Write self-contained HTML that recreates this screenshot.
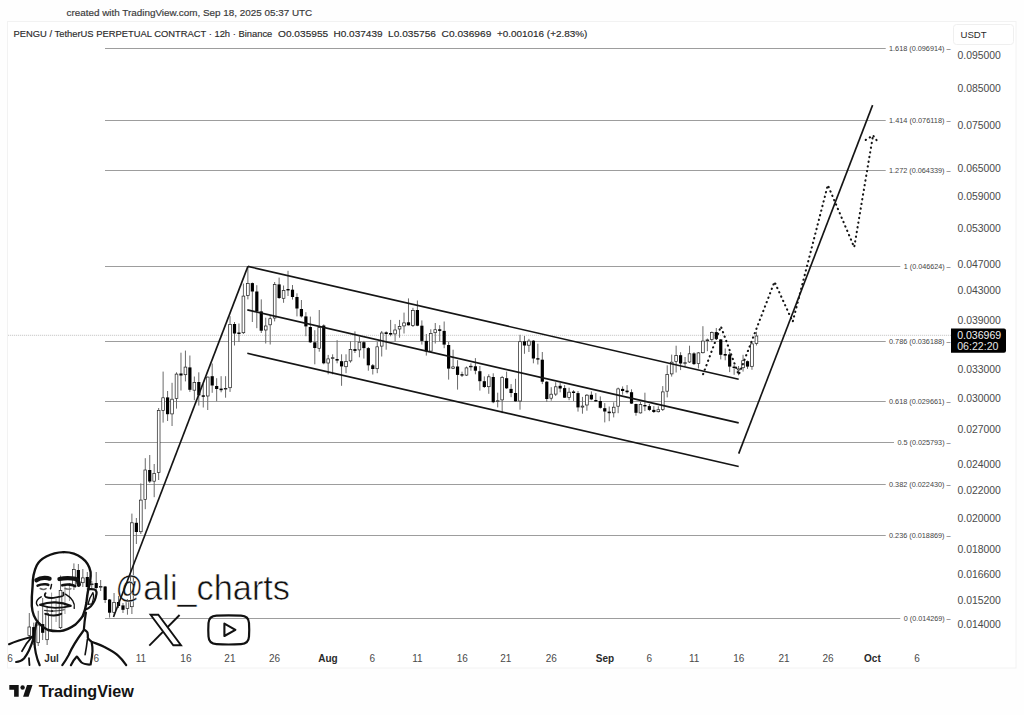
<!DOCTYPE html><html><head><meta charset="utf-8"><style>html,body{margin:0;padding:0;background:#fff;}svg{display:block;}text{font-family:"Liberation Sans",sans-serif;}</style></head><body>
<svg width="1024" height="715" viewBox="0 0 1024 715">
<rect x="0" y="0" width="1024" height="715" fill="#fefefe"/>
<rect x="7.5" y="21.5" width="1008.5" height="646.5" fill="#ffffff" stroke="#f2f2f2" stroke-width="1"/>
<text x="66.5" y="15.5" font-size="9.9" fill="#3a3a3a" stroke="#3a3a3a" stroke-width="0.18">created with TradingView.com, Sep 18, 2025 05:37 UTC</text>
<text x="13.5" y="36.7" font-size="9.6" fill="#2a2a2a" stroke="#2a2a2a" stroke-width="0.15" textLength="258.8" lengthAdjust="spacingAndGlyphs">PENGU / TetherUS PERPETUAL CONTRACT · 12h · Binance</text>
<text x="278.0" y="36.7" font-size="9.6" fill="#2a2a2a" stroke="#2a2a2a" stroke-width="0.15" textLength="50.2" lengthAdjust="spacingAndGlyphs">O0.035955</text>
<text x="333.5" y="36.7" font-size="9.6" fill="#2a2a2a" stroke="#2a2a2a" stroke-width="0.15" textLength="49.1" lengthAdjust="spacingAndGlyphs">H0.037439</text>
<text x="388.1" y="36.7" font-size="9.6" fill="#2a2a2a" stroke="#2a2a2a" stroke-width="0.15" textLength="47.8" lengthAdjust="spacingAndGlyphs">L0.035756</text>
<text x="441.6" y="36.7" font-size="9.6" fill="#2a2a2a" stroke="#2a2a2a" stroke-width="0.15" textLength="49.7" lengthAdjust="spacingAndGlyphs">C0.036969</text>
<text x="496.9" y="36.7" font-size="9.6" fill="#2a2a2a" stroke="#2a2a2a" stroke-width="0.15" textLength="90.5" lengthAdjust="spacingAndGlyphs">+0.001016 (+2.83%)</text>
<rect x="953.5" y="24.5" width="60" height="20" rx="3" fill="#fff" stroke="#efefef"/>
<text x="960.5" y="37.6" font-size="9.6" fill="#2a2a2a">USDT</text>
<text x="957.5" y="58.7" font-size="10.4" fill="#4a4a4a">0.095000</text>
<text x="957.5" y="91.8" font-size="10.4" fill="#4a4a4a">0.085000</text>
<text x="957.5" y="129.0" font-size="10.4" fill="#4a4a4a">0.075000</text>
<text x="957.5" y="171.6" font-size="10.4" fill="#4a4a4a">0.065000</text>
<text x="957.5" y="200.4" font-size="10.4" fill="#4a4a4a">0.059000</text>
<text x="957.5" y="232.3" font-size="10.4" fill="#4a4a4a">0.053000</text>
<text x="957.5" y="268.0" font-size="10.4" fill="#4a4a4a">0.047000</text>
<text x="957.5" y="294.4" font-size="10.4" fill="#4a4a4a">0.043000</text>
<text x="957.5" y="323.5" font-size="10.4" fill="#4a4a4a">0.039000</text>
<text x="957.5" y="373.2" font-size="10.4" fill="#4a4a4a">0.033000</text>
<text x="957.5" y="401.5" font-size="10.4" fill="#4a4a4a">0.030000</text>
<text x="957.5" y="432.8" font-size="10.4" fill="#4a4a4a">0.027000</text>
<text x="957.5" y="467.9" font-size="10.4" fill="#4a4a4a">0.024000</text>
<text x="957.5" y="493.7" font-size="10.4" fill="#4a4a4a">0.022000</text>
<text x="957.5" y="522.1" font-size="10.4" fill="#4a4a4a">0.020000</text>
<text x="957.5" y="553.4" font-size="10.4" fill="#4a4a4a">0.018000</text>
<text x="957.5" y="577.5" font-size="10.4" fill="#4a4a4a">0.016600</text>
<text x="957.5" y="603.7" font-size="10.4" fill="#4a4a4a">0.015200</text>
<text x="957.5" y="628.2" font-size="10.4" fill="#4a4a4a">0.014000</text>
<text x="889.0" y="51.0" font-size="7.2" fill="#444" textLength="61.6" lengthAdjust="spacingAndGlyphs">1.618 (0.096914) –</text>
<line class="fib" data-r="1.618" x1="105" y1="48.5" x2="885.7" y2="48.5" stroke="#9d9d9d" stroke-width="1.2"/>
<text x="889.0" y="123.0" font-size="7.2" fill="#444" textLength="61.6" lengthAdjust="spacingAndGlyphs">1.414 (0.076118) –</text>
<line class="fib" data-r="1.414" x1="105" y1="120.5" x2="885.7" y2="120.5" stroke="#9d9d9d" stroke-width="1.2"/>
<text x="889.0" y="173.0" font-size="7.2" fill="#444" textLength="61.6" lengthAdjust="spacingAndGlyphs">1.272 (0.064339) –</text>
<line class="fib" data-r="1.272" x1="105" y1="170.5" x2="885.7" y2="170.5" stroke="#9d9d9d" stroke-width="1.2"/>
<text x="903.8" y="269.0" font-size="7.2" fill="#444" textLength="46.8" lengthAdjust="spacingAndGlyphs">1 (0.046624) –</text>
<line class="fib" data-r="1" x1="105" y1="266.5" x2="900.3" y2="266.5" stroke="#9d9d9d" stroke-width="1.2"/>
<text x="889.0" y="344.0" font-size="7.2" fill="#444" textLength="61.6" lengthAdjust="spacingAndGlyphs">0.786 (0.036188) –</text>
<line class="fib" data-r="0.786" x1="105" y1="341.5" x2="885.7" y2="341.5" stroke="#9d9d9d" stroke-width="1.2"/>
<text x="889.0" y="404.0" font-size="7.2" fill="#444" textLength="61.6" lengthAdjust="spacingAndGlyphs">0.618 (0.029661) –</text>
<line class="fib" data-r="0.618" x1="105" y1="401.5" x2="885.7" y2="401.5" stroke="#9d9d9d" stroke-width="1.2"/>
<text x="897.4" y="445.0" font-size="7.2" fill="#444" textLength="53.2" lengthAdjust="spacingAndGlyphs">0.5 (0.025793) –</text>
<line class="fib" data-r="0.5" x1="105" y1="442.5" x2="894" y2="442.5" stroke="#9d9d9d" stroke-width="1.2"/>
<text x="889.0" y="487.0" font-size="7.2" fill="#444" textLength="61.6" lengthAdjust="spacingAndGlyphs">0.382 (0.022430) –</text>
<line class="fib" data-r="0.382" x1="105" y1="484.5" x2="885.7" y2="484.5" stroke="#9d9d9d" stroke-width="1.2"/>
<text x="889.0" y="538.0" font-size="7.2" fill="#444" textLength="61.6" lengthAdjust="spacingAndGlyphs">0.236 (0.018869) –</text>
<line class="fib" data-r="0.236" x1="105" y1="535.5" x2="885.7" y2="535.5" stroke="#9d9d9d" stroke-width="1.2"/>
<text x="903.8" y="621.0" font-size="7.2" fill="#444" textLength="46.8" lengthAdjust="spacingAndGlyphs">0 (0.014269) –</text>
<line class="fib" data-r="0" x1="105" y1="618.5" x2="900.3" y2="618.5" stroke="#9d9d9d" stroke-width="1.2"/>
<line x1="8" y1="335.3" x2="951" y2="335.3" stroke="#c4c4c4" stroke-width="0.9" stroke-dasharray="1.2 0.8"/>
<path d="M951,328.6 H1004 Q1006,328.6 1006,330.6 V350.8 Q1006,352.8 1004,352.8 H951 Z" fill="#000"/>
<text x="957.2" y="339.4" font-size="10.4" fill="#f0f0f0" textLength="44" lengthAdjust="spacingAndGlyphs">0.036969</text>
<text x="957.2" y="349.8" font-size="10.4" fill="#e6e6e6" textLength="41.3" lengthAdjust="spacingAndGlyphs">06:22:20</text>
<text x="10.0" y="661.5" font-size="10" text-anchor="middle" fill="#4a4a4a">6</text>
<text x="51.6" y="661.5" font-size="10" text-anchor="middle" font-weight="700" fill="#2a2a2a">Jul</text>
<text x="96.3" y="661.5" font-size="10" text-anchor="middle" fill="#4a4a4a">6</text>
<text x="141" y="661.5" font-size="10" text-anchor="middle" fill="#4a4a4a">11</text>
<text x="185.9" y="661.5" font-size="10" text-anchor="middle" fill="#4a4a4a">16</text>
<text x="229.9" y="661.5" font-size="10" text-anchor="middle" fill="#4a4a4a">21</text>
<text x="274.5" y="661.5" font-size="10" text-anchor="middle" fill="#4a4a4a">26</text>
<text x="328" y="661.5" font-size="10" text-anchor="middle" font-weight="700" fill="#2a2a2a">Aug</text>
<text x="372.4" y="661.5" font-size="10" text-anchor="middle" fill="#4a4a4a">6</text>
<text x="417.4" y="661.5" font-size="10" text-anchor="middle" fill="#4a4a4a">11</text>
<text x="462.3" y="661.5" font-size="10" text-anchor="middle" fill="#4a4a4a">16</text>
<text x="505.7" y="661.5" font-size="10" text-anchor="middle" fill="#4a4a4a">21</text>
<text x="551.2" y="661.5" font-size="10" text-anchor="middle" fill="#4a4a4a">26</text>
<text x="605" y="661.5" font-size="10" text-anchor="middle" font-weight="700" fill="#2a2a2a">Sep</text>
<text x="649.4" y="661.5" font-size="10" text-anchor="middle" fill="#4a4a4a">6</text>
<text x="694.1" y="661.5" font-size="10" text-anchor="middle" fill="#4a4a4a">11</text>
<text x="738.8" y="661.5" font-size="10" text-anchor="middle" fill="#4a4a4a">16</text>
<text x="784" y="661.5" font-size="10" text-anchor="middle" fill="#4a4a4a">21</text>
<text x="828.1" y="661.5" font-size="10" text-anchor="middle" fill="#4a4a4a">26</text>
<text x="872.4" y="661.5" font-size="10" text-anchor="middle" font-weight="700" fill="#2a2a2a">Oct</text>
<text x="917" y="661.5" font-size="10" text-anchor="middle" fill="#4a4a4a">6</text>
<g class="candles"><line x1="29.30" y1="613.0" x2="29.30" y2="641.0" stroke="#6a6a6a" stroke-width="1"/><rect x="27.95" y="627.0" width="2.7" height="8.5" fill="#fff" stroke="#1e1e1e" stroke-width="0.7"/><line x1="33.76" y1="622.6" x2="33.76" y2="645.0" stroke="#6a6a6a" stroke-width="1"/><rect x="32.16" y="627.1" width="3.2" height="14.9" fill="#000"/><line x1="38.22" y1="610.8" x2="38.22" y2="646.0" stroke="#6a6a6a" stroke-width="1"/><rect x="36.87" y="625.0" width="2.7" height="17.7" fill="#fff" stroke="#1e1e1e" stroke-width="0.7"/><line x1="42.68" y1="598.0" x2="42.68" y2="640.0" stroke="#6a6a6a" stroke-width="1"/><rect x="41.08" y="624.1" width="3.2" height="8.7" fill="#000"/><line x1="47.14" y1="606.0" x2="47.14" y2="645.0" stroke="#6a6a6a" stroke-width="1"/><rect x="45.79" y="613.4" width="2.7" height="26.3" fill="#fff" stroke="#1e1e1e" stroke-width="0.7"/><line x1="51.60" y1="592.6" x2="51.60" y2="630.3" stroke="#9a9a9a" stroke-width="1"/><line x1="56.06" y1="599.0" x2="56.06" y2="622.0" stroke="#9a9a9a" stroke-width="1"/><line x1="60.52" y1="575.5" x2="60.52" y2="629.0" stroke="#6a6a6a" stroke-width="1"/><rect x="59.17" y="590.4" width="2.7" height="37.3" fill="#fff" stroke="#1e1e1e" stroke-width="0.7"/><line x1="64.98" y1="585.0" x2="64.98" y2="614.0" stroke="#9a9a9a" stroke-width="1"/><line x1="69.44" y1="583.0" x2="69.44" y2="601.0" stroke="#9a9a9a" stroke-width="1"/><line x1="73.91" y1="563.4" x2="73.91" y2="590.0" stroke="#6a6a6a" stroke-width="1"/><rect x="72.56" y="569.6" width="2.7" height="15.8" fill="#fff" stroke="#1e1e1e" stroke-width="0.7"/><line x1="78.37" y1="564.0" x2="78.37" y2="587.0" stroke="#6a6a6a" stroke-width="1"/><rect x="76.77" y="570.0" width="3.2" height="14.0" fill="#000"/><line x1="82.83" y1="569.0" x2="82.83" y2="587.0" stroke="#6a6a6a" stroke-width="1"/><rect x="81.48" y="577.9" width="2.7" height="4.8" fill="#fff" stroke="#1e1e1e" stroke-width="0.7"/><line x1="87.29" y1="572.0" x2="87.29" y2="590.0" stroke="#6a6a6a" stroke-width="1"/><rect x="85.69" y="577.0" width="3.2" height="10.0" fill="#000"/><line x1="91.75" y1="581.0" x2="91.75" y2="588.0" stroke="#6a6a6a" stroke-width="1"/><rect x="90.40" y="583.9" width="2.7" height="0.8" fill="#fff" stroke="#1e1e1e" stroke-width="0.7"/><line x1="96.21" y1="572.0" x2="96.21" y2="590.0" stroke="#6a6a6a" stroke-width="1"/><rect x="94.61" y="583.0" width="3.2" height="5.0" fill="#000"/><line x1="100.67" y1="580.0" x2="100.67" y2="591.0" stroke="#6a6a6a" stroke-width="1"/><rect x="99.32" y="586.4" width="2.7" height="0.8" fill="#fff" stroke="#1e1e1e" stroke-width="0.7"/><line x1="105.13" y1="586.0" x2="105.13" y2="603.0" stroke="#6a6a6a" stroke-width="1"/><rect x="103.53" y="586.5" width="3.2" height="13.5" fill="#000"/><line x1="109.59" y1="599.0" x2="109.59" y2="617.6" stroke="#6a6a6a" stroke-width="1"/><rect x="107.99" y="599.5" width="3.2" height="13.2" fill="#000"/><line x1="114.05" y1="593.0" x2="114.05" y2="615.0" stroke="#6a6a6a" stroke-width="1"/><rect x="112.70" y="602.4" width="2.7" height="10.0" fill="#fff" stroke="#1e1e1e" stroke-width="0.7"/><line x1="118.52" y1="596.0" x2="118.52" y2="608.0" stroke="#6a6a6a" stroke-width="1"/><rect x="116.92" y="602.0" width="3.2" height="4.0" fill="#000"/><line x1="122.98" y1="603.0" x2="122.98" y2="613.0" stroke="#6a6a6a" stroke-width="1"/><rect x="121.38" y="605.4" width="3.2" height="4.4" fill="#000"/><line x1="127.44" y1="599.0" x2="127.44" y2="614.7" stroke="#6a6a6a" stroke-width="1"/><rect x="126.09" y="601.4" width="2.7" height="7.1" fill="#fff" stroke="#1e1e1e" stroke-width="0.7"/><line x1="131.90" y1="513.6" x2="131.90" y2="614.0" stroke="#6a6a6a" stroke-width="1"/><rect x="130.55" y="522.8" width="2.7" height="83.9" fill="#fff" stroke="#1e1e1e" stroke-width="0.7"/><line x1="136.36" y1="518.0" x2="136.36" y2="544.0" stroke="#6a6a6a" stroke-width="1"/><rect x="134.76" y="522.8" width="3.2" height="9.2" fill="#000"/><line x1="140.82" y1="483.4" x2="140.82" y2="534.0" stroke="#6a6a6a" stroke-width="1"/><rect x="139.47" y="500.1" width="2.7" height="31.6" fill="#fff" stroke="#1e1e1e" stroke-width="0.7"/><line x1="145.28" y1="458.2" x2="145.28" y2="509.2" stroke="#6a6a6a" stroke-width="1"/><rect x="143.93" y="470.0" width="2.7" height="29.4" fill="#fff" stroke="#1e1e1e" stroke-width="0.7"/><line x1="149.74" y1="455.0" x2="149.74" y2="483.0" stroke="#6a6a6a" stroke-width="1"/><rect x="148.14" y="470.0" width="3.2" height="11.5" fill="#000"/><line x1="154.20" y1="464.0" x2="154.20" y2="497.2" stroke="#6a6a6a" stroke-width="1"/><rect x="152.85" y="473.4" width="2.7" height="7.8" fill="#fff" stroke="#1e1e1e" stroke-width="0.7"/><line x1="158.66" y1="408.0" x2="158.66" y2="480.0" stroke="#6a6a6a" stroke-width="1"/><rect x="157.31" y="410.4" width="2.7" height="62.0" fill="#fff" stroke="#1e1e1e" stroke-width="0.7"/><line x1="163.12" y1="371.6" x2="163.12" y2="422.6" stroke="#6a6a6a" stroke-width="1"/><rect x="161.78" y="397.8" width="2.7" height="12.6" fill="#fff" stroke="#1e1e1e" stroke-width="0.7"/><line x1="167.59" y1="391.0" x2="167.59" y2="421.0" stroke="#6a6a6a" stroke-width="1"/><rect x="165.99" y="397.4" width="3.2" height="16.8" fill="#000"/><line x1="172.05" y1="382.8" x2="172.05" y2="426.0" stroke="#6a6a6a" stroke-width="1"/><rect x="170.70" y="399.2" width="2.7" height="14.7" fill="#fff" stroke="#1e1e1e" stroke-width="0.7"/><line x1="176.51" y1="372.3" x2="176.51" y2="408.6" stroke="#6a6a6a" stroke-width="1"/><rect x="175.16" y="374.1" width="2.7" height="24.4" fill="#fff" stroke="#1e1e1e" stroke-width="0.7"/><line x1="180.97" y1="352.7" x2="180.97" y2="390.5" stroke="#6a6a6a" stroke-width="1"/><rect x="179.37" y="373.5" width="3.2" height="2.0" fill="#000"/><line x1="185.43" y1="350.6" x2="185.43" y2="381.4" stroke="#6a6a6a" stroke-width="1"/><rect x="184.08" y="367.1" width="2.7" height="7.6" fill="#fff" stroke="#1e1e1e" stroke-width="0.7"/><line x1="189.89" y1="355.5" x2="189.89" y2="391.9" stroke="#6a6a6a" stroke-width="1"/><rect x="188.29" y="367.4" width="3.2" height="22.4" fill="#000"/><line x1="194.35" y1="376.5" x2="194.35" y2="400.2" stroke="#6a6a6a" stroke-width="1"/><rect x="193.00" y="382.4" width="2.7" height="7.8" fill="#fff" stroke="#1e1e1e" stroke-width="0.7"/><line x1="198.81" y1="372.3" x2="198.81" y2="405.6" stroke="#6a6a6a" stroke-width="1"/><rect x="197.21" y="382.0" width="3.2" height="13.3" fill="#000"/><line x1="203.27" y1="384.0" x2="203.27" y2="407.5" stroke="#6a6a6a" stroke-width="1"/><rect x="201.67" y="395.3" width="3.2" height="1.5" fill="#000"/><line x1="207.74" y1="376.5" x2="207.74" y2="410.0" stroke="#6a6a6a" stroke-width="1"/><rect x="206.39" y="377.1" width="2.7" height="18.9" fill="#fff" stroke="#1e1e1e" stroke-width="0.7"/><line x1="212.20" y1="363.5" x2="212.20" y2="392.8" stroke="#6a6a6a" stroke-width="1"/><rect x="210.60" y="376.2" width="3.2" height="9.3" fill="#000"/><line x1="216.66" y1="378.2" x2="216.66" y2="401.2" stroke="#6a6a6a" stroke-width="1"/><rect x="215.06" y="386.0" width="3.2" height="3.0" fill="#000"/><line x1="221.12" y1="376.2" x2="221.12" y2="392.3" stroke="#6a6a6a" stroke-width="1"/><rect x="219.52" y="388.6" width="3.2" height="1.6" fill="#000"/><line x1="225.58" y1="376.2" x2="225.58" y2="397.7" stroke="#6a6a6a" stroke-width="1"/><rect x="224.23" y="388.4" width="2.7" height="0.7" fill="#fff" stroke="#1e1e1e" stroke-width="0.7"/><line x1="230.04" y1="316.2" x2="230.04" y2="391.9" stroke="#6a6a6a" stroke-width="1"/><rect x="228.69" y="324.4" width="2.7" height="63.3" fill="#fff" stroke="#1e1e1e" stroke-width="0.7"/><line x1="234.50" y1="322.0" x2="234.50" y2="345.5" stroke="#6a6a6a" stroke-width="1"/><rect x="232.90" y="324.0" width="3.2" height="9.5" fill="#000"/><line x1="238.96" y1="323.5" x2="238.96" y2="342.0" stroke="#6a6a6a" stroke-width="1"/><rect x="237.36" y="332.5" width="3.2" height="1.5" fill="#000"/><line x1="243.42" y1="283.6" x2="243.42" y2="334.0" stroke="#6a6a6a" stroke-width="1"/><rect x="242.07" y="296.1" width="2.7" height="36.6" fill="#fff" stroke="#1e1e1e" stroke-width="0.7"/><line x1="247.88" y1="266.5" x2="247.88" y2="299.4" stroke="#6a6a6a" stroke-width="1"/><rect x="246.53" y="283.5" width="2.7" height="11.9" fill="#fff" stroke="#1e1e1e" stroke-width="0.7"/><line x1="252.34" y1="282.5" x2="252.34" y2="322.0" stroke="#6a6a6a" stroke-width="1"/><rect x="250.75" y="283.1" width="3.2" height="8.4" fill="#000"/><line x1="256.81" y1="285.2" x2="256.81" y2="328.2" stroke="#6a6a6a" stroke-width="1"/><rect x="255.21" y="291.5" width="3.2" height="19.9" fill="#000"/><line x1="261.27" y1="299.4" x2="261.27" y2="333.0" stroke="#6a6a6a" stroke-width="1"/><rect x="259.67" y="311.4" width="3.2" height="19.3" fill="#000"/><line x1="265.73" y1="317.7" x2="265.73" y2="343.5" stroke="#6a6a6a" stroke-width="1"/><rect x="264.38" y="326.0" width="2.7" height="4.0" fill="#fff" stroke="#1e1e1e" stroke-width="0.7"/><line x1="270.19" y1="315.0" x2="270.19" y2="344.5" stroke="#6a6a6a" stroke-width="1"/><rect x="268.84" y="318.7" width="2.7" height="6.1" fill="#fff" stroke="#1e1e1e" stroke-width="0.7"/><line x1="274.65" y1="282.0" x2="274.65" y2="321.4" stroke="#6a6a6a" stroke-width="1"/><rect x="273.30" y="284.6" width="2.7" height="33.4" fill="#fff" stroke="#1e1e1e" stroke-width="0.7"/><line x1="279.11" y1="277.6" x2="279.11" y2="299.0" stroke="#6a6a6a" stroke-width="1"/><rect x="277.51" y="284.4" width="3.2" height="13.6" fill="#000"/><line x1="283.57" y1="285.5" x2="283.57" y2="302.8" stroke="#6a6a6a" stroke-width="1"/><rect x="282.22" y="290.6" width="2.7" height="7.7" fill="#fff" stroke="#1e1e1e" stroke-width="0.7"/><line x1="288.03" y1="270.8" x2="288.03" y2="296.0" stroke="#6a6a6a" stroke-width="1"/><rect x="286.43" y="289.0" width="3.2" height="1.4" fill="#000"/><line x1="292.49" y1="285.0" x2="292.49" y2="299.6" stroke="#6a6a6a" stroke-width="1"/><rect x="290.89" y="289.7" width="3.2" height="7.3" fill="#000"/><line x1="296.96" y1="293.3" x2="296.96" y2="316.4" stroke="#6a6a6a" stroke-width="1"/><rect x="295.36" y="297.0" width="3.2" height="11.5" fill="#000"/><line x1="301.42" y1="300.0" x2="301.42" y2="317.5" stroke="#6a6a6a" stroke-width="1"/><rect x="299.82" y="309.0" width="3.2" height="7.4" fill="#000"/><line x1="305.88" y1="312.2" x2="305.88" y2="336.2" stroke="#6a6a6a" stroke-width="1"/><rect x="304.28" y="316.4" width="3.2" height="10.0" fill="#000"/><line x1="310.34" y1="316.6" x2="310.34" y2="343.0" stroke="#6a6a6a" stroke-width="1"/><rect x="308.74" y="327.0" width="3.2" height="15.3" fill="#000"/><line x1="314.80" y1="330.2" x2="314.80" y2="364.3" stroke="#6a6a6a" stroke-width="1"/><rect x="313.20" y="342.3" width="3.2" height="5.7" fill="#000"/><line x1="319.26" y1="310.0" x2="319.26" y2="351.7" stroke="#6a6a6a" stroke-width="1"/><rect x="317.91" y="327.4" width="2.7" height="20.9" fill="#fff" stroke="#1e1e1e" stroke-width="0.7"/><line x1="323.72" y1="324.4" x2="323.72" y2="364.3" stroke="#6a6a6a" stroke-width="1"/><rect x="322.12" y="325.5" width="3.2" height="37.8" fill="#000"/><line x1="328.18" y1="354.9" x2="328.18" y2="374.3" stroke="#6a6a6a" stroke-width="1"/><rect x="326.83" y="358.9" width="2.7" height="4.1" fill="#fff" stroke="#1e1e1e" stroke-width="0.7"/><line x1="332.64" y1="354.3" x2="332.64" y2="374.3" stroke="#6a6a6a" stroke-width="1"/><rect x="331.29" y="357.7" width="2.7" height="0.7" fill="#fff" stroke="#1e1e1e" stroke-width="0.7"/><line x1="337.10" y1="340.2" x2="337.10" y2="363.3" stroke="#6a6a6a" stroke-width="1"/><rect x="335.50" y="359.0" width="3.2" height="1.6" fill="#000"/><line x1="341.57" y1="354.3" x2="341.57" y2="385.8" stroke="#6a6a6a" stroke-width="1"/><rect x="339.97" y="361.2" width="3.2" height="5.2" fill="#000"/><line x1="346.03" y1="354.3" x2="346.03" y2="373.2" stroke="#6a6a6a" stroke-width="1"/><rect x="344.68" y="361.6" width="2.7" height="5.1" fill="#fff" stroke="#1e1e1e" stroke-width="0.7"/><line x1="350.49" y1="341.2" x2="350.49" y2="362.7" stroke="#6a6a6a" stroke-width="1"/><rect x="349.14" y="349.5" width="2.7" height="11.4" fill="#fff" stroke="#1e1e1e" stroke-width="0.7"/><line x1="354.95" y1="331.4" x2="354.95" y2="353.0" stroke="#6a6a6a" stroke-width="1"/><rect x="353.35" y="349.1" width="3.2" height="1.8" fill="#000"/><line x1="359.41" y1="336.7" x2="359.41" y2="357.3" stroke="#6a6a6a" stroke-width="1"/><rect x="358.06" y="342.2" width="2.7" height="7.7" fill="#fff" stroke="#1e1e1e" stroke-width="0.7"/><line x1="363.87" y1="340.9" x2="363.87" y2="358.6" stroke="#6a6a6a" stroke-width="1"/><rect x="362.27" y="342.2" width="3.2" height="5.9" fill="#000"/><line x1="368.33" y1="347.0" x2="368.33" y2="370.7" stroke="#6a6a6a" stroke-width="1"/><rect x="366.73" y="348.1" width="3.2" height="17.2" fill="#000"/><line x1="372.79" y1="364.0" x2="372.79" y2="374.5" stroke="#6a6a6a" stroke-width="1"/><rect x="371.19" y="365.3" width="3.2" height="3.7" fill="#000"/><line x1="377.25" y1="341.8" x2="377.25" y2="373.2" stroke="#6a6a6a" stroke-width="1"/><rect x="375.90" y="346.8" width="2.7" height="21.9" fill="#fff" stroke="#1e1e1e" stroke-width="0.7"/><line x1="381.71" y1="331.0" x2="381.71" y2="356.5" stroke="#6a6a6a" stroke-width="1"/><rect x="380.36" y="333.0" width="2.7" height="13.1" fill="#fff" stroke="#1e1e1e" stroke-width="0.7"/><line x1="386.18" y1="331.3" x2="386.18" y2="349.7" stroke="#6a6a6a" stroke-width="1"/><rect x="384.58" y="332.3" width="3.2" height="1.7" fill="#000"/><line x1="390.64" y1="319.9" x2="390.64" y2="336.3" stroke="#6a6a6a" stroke-width="1"/><rect x="389.04" y="333.0" width="3.2" height="1.6" fill="#000"/><line x1="395.10" y1="324.1" x2="395.10" y2="341.4" stroke="#6a6a6a" stroke-width="1"/><rect x="393.75" y="330.0" width="2.7" height="3.9" fill="#fff" stroke="#1e1e1e" stroke-width="0.7"/><line x1="399.56" y1="319.9" x2="399.56" y2="337.7" stroke="#6a6a6a" stroke-width="1"/><rect x="398.21" y="326.6" width="2.7" height="2.4" fill="#fff" stroke="#1e1e1e" stroke-width="0.7"/><line x1="404.02" y1="312.6" x2="404.02" y2="333.5" stroke="#6a6a6a" stroke-width="1"/><rect x="402.67" y="322.9" width="2.7" height="3.0" fill="#fff" stroke="#1e1e1e" stroke-width="0.7"/><line x1="408.48" y1="298.4" x2="408.48" y2="325.5" stroke="#6a6a6a" stroke-width="1"/><rect x="406.88" y="322.3" width="3.2" height="3.0" fill="#000"/><line x1="412.94" y1="307.8" x2="412.94" y2="327.0" stroke="#6a6a6a" stroke-width="1"/><rect x="411.59" y="310.4" width="2.7" height="15.0" fill="#fff" stroke="#1e1e1e" stroke-width="0.7"/><line x1="417.40" y1="300.5" x2="417.40" y2="326.2" stroke="#6a6a6a" stroke-width="1"/><rect x="415.80" y="310.0" width="3.2" height="15.7" fill="#000"/><line x1="421.86" y1="320.4" x2="421.86" y2="344.6" stroke="#6a6a6a" stroke-width="1"/><rect x="420.26" y="325.7" width="3.2" height="15.2" fill="#000"/><line x1="426.32" y1="334.0" x2="426.32" y2="355.6" stroke="#6a6a6a" stroke-width="1"/><rect x="424.72" y="340.9" width="3.2" height="10.5" fill="#000"/><line x1="430.79" y1="329.3" x2="430.79" y2="352.0" stroke="#6a6a6a" stroke-width="1"/><rect x="429.44" y="333.4" width="2.7" height="17.7" fill="#fff" stroke="#1e1e1e" stroke-width="0.7"/><line x1="435.25" y1="323.0" x2="435.25" y2="343.5" stroke="#6a6a6a" stroke-width="1"/><rect x="433.90" y="329.7" width="2.7" height="3.0" fill="#fff" stroke="#1e1e1e" stroke-width="0.7"/><line x1="439.71" y1="325.2" x2="439.71" y2="341.4" stroke="#6a6a6a" stroke-width="1"/><rect x="438.11" y="329.3" width="3.2" height="1.6" fill="#000"/><line x1="444.17" y1="321.5" x2="444.17" y2="348.2" stroke="#6a6a6a" stroke-width="1"/><rect x="442.57" y="330.9" width="3.2" height="13.7" fill="#000"/><line x1="448.63" y1="342.0" x2="448.63" y2="379.6" stroke="#6a6a6a" stroke-width="1"/><rect x="447.03" y="345.0" width="3.2" height="23.6" fill="#000"/><line x1="453.09" y1="349.7" x2="453.09" y2="369.1" stroke="#6a6a6a" stroke-width="1"/><rect x="451.74" y="366.9" width="2.7" height="1.4" fill="#fff" stroke="#1e1e1e" stroke-width="0.7"/><line x1="457.55" y1="360.2" x2="457.55" y2="389.6" stroke="#6a6a6a" stroke-width="1"/><rect x="455.95" y="366.5" width="3.2" height="8.4" fill="#000"/><line x1="462.01" y1="371.7" x2="462.01" y2="377.0" stroke="#6a6a6a" stroke-width="1"/><rect x="460.41" y="374.2" width="3.2" height="1.4" fill="#000"/><line x1="466.47" y1="366.5" x2="466.47" y2="376.0" stroke="#6a6a6a" stroke-width="1"/><rect x="465.12" y="367.9" width="2.7" height="7.2" fill="#fff" stroke="#1e1e1e" stroke-width="0.7"/><line x1="470.93" y1="363.3" x2="470.93" y2="370.7" stroke="#6a6a6a" stroke-width="1"/><rect x="469.58" y="366.2" width="2.7" height="0.7" fill="#fff" stroke="#1e1e1e" stroke-width="0.7"/><line x1="475.40" y1="358.1" x2="475.40" y2="374.3" stroke="#6a6a6a" stroke-width="1"/><rect x="473.80" y="366.3" width="3.2" height="4.4" fill="#000"/><line x1="479.86" y1="366.0" x2="479.86" y2="390.6" stroke="#6a6a6a" stroke-width="1"/><rect x="478.26" y="371.2" width="3.2" height="10.0" fill="#000"/><line x1="484.32" y1="376.4" x2="484.32" y2="388.0" stroke="#6a6a6a" stroke-width="1"/><rect x="482.72" y="381.2" width="3.2" height="5.8" fill="#000"/><line x1="488.78" y1="374.3" x2="488.78" y2="393.8" stroke="#6a6a6a" stroke-width="1"/><rect x="487.43" y="376.8" width="2.7" height="9.9" fill="#fff" stroke="#1e1e1e" stroke-width="0.7"/><line x1="493.24" y1="373.3" x2="493.24" y2="403.2" stroke="#6a6a6a" stroke-width="1"/><rect x="491.64" y="377.0" width="3.2" height="25.2" fill="#000"/><line x1="497.70" y1="392.7" x2="497.70" y2="407.4" stroke="#6a6a6a" stroke-width="1"/><rect x="496.35" y="400.8" width="2.7" height="0.7" fill="#fff" stroke="#1e1e1e" stroke-width="0.7"/><line x1="502.16" y1="375.9" x2="502.16" y2="413.2" stroke="#6a6a6a" stroke-width="1"/><rect x="500.81" y="377.4" width="2.7" height="22.5" fill="#fff" stroke="#1e1e1e" stroke-width="0.7"/><line x1="506.62" y1="371.6" x2="506.62" y2="389.0" stroke="#6a6a6a" stroke-width="1"/><rect x="505.02" y="378.2" width="3.2" height="10.1" fill="#000"/><line x1="511.08" y1="384.1" x2="511.08" y2="397.2" stroke="#6a6a6a" stroke-width="1"/><rect x="509.48" y="388.9" width="3.2" height="4.1" fill="#000"/><line x1="515.54" y1="378.8" x2="515.54" y2="402.0" stroke="#6a6a6a" stroke-width="1"/><rect x="513.94" y="393.0" width="3.2" height="8.3" fill="#000"/><line x1="520.00" y1="334.8" x2="520.00" y2="409.7" stroke="#6a6a6a" stroke-width="1"/><rect x="518.65" y="341.7" width="2.7" height="59.3" fill="#fff" stroke="#1e1e1e" stroke-width="0.7"/><line x1="524.47" y1="336.0" x2="524.47" y2="353.8" stroke="#6a6a6a" stroke-width="1"/><rect x="522.87" y="341.3" width="3.2" height="4.2" fill="#000"/><line x1="528.93" y1="338.9" x2="528.93" y2="352.0" stroke="#6a6a6a" stroke-width="1"/><rect x="527.58" y="341.1" width="2.7" height="4.1" fill="#fff" stroke="#1e1e1e" stroke-width="0.7"/><line x1="533.39" y1="340.0" x2="533.39" y2="363.3" stroke="#6a6a6a" stroke-width="1"/><rect x="531.79" y="340.7" width="3.2" height="17.8" fill="#000"/><line x1="537.85" y1="343.7" x2="537.85" y2="364.5" stroke="#6a6a6a" stroke-width="1"/><rect x="536.25" y="358.2" width="3.2" height="1.4" fill="#000"/><line x1="542.31" y1="352.0" x2="542.31" y2="384.1" stroke="#6a6a6a" stroke-width="1"/><rect x="540.71" y="359.7" width="3.2" height="22.0" fill="#000"/><line x1="546.77" y1="381.0" x2="546.77" y2="401.9" stroke="#6a6a6a" stroke-width="1"/><rect x="545.17" y="381.7" width="3.2" height="17.3" fill="#000"/><line x1="551.23" y1="387.2" x2="551.23" y2="400.7" stroke="#6a6a6a" stroke-width="1"/><rect x="549.88" y="394.2" width="2.7" height="4.0" fill="#fff" stroke="#1e1e1e" stroke-width="0.7"/><line x1="555.69" y1="382.2" x2="555.69" y2="396.0" stroke="#6a6a6a" stroke-width="1"/><rect x="554.34" y="386.8" width="2.7" height="7.3" fill="#fff" stroke="#1e1e1e" stroke-width="0.7"/><line x1="560.15" y1="383.0" x2="560.15" y2="392.3" stroke="#6a6a6a" stroke-width="1"/><rect x="558.55" y="385.8" width="3.2" height="2.7" fill="#000"/><line x1="564.62" y1="385.1" x2="564.62" y2="398.0" stroke="#6a6a6a" stroke-width="1"/><rect x="563.01" y="388.1" width="3.2" height="9.6" fill="#000"/><line x1="569.08" y1="387.7" x2="569.08" y2="400.2" stroke="#6a6a6a" stroke-width="1"/><rect x="567.73" y="392.2" width="2.7" height="5.2" fill="#fff" stroke="#1e1e1e" stroke-width="0.7"/><line x1="573.54" y1="390.2" x2="573.54" y2="401.0" stroke="#6a6a6a" stroke-width="1"/><rect x="571.94" y="391.5" width="3.2" height="1.5" fill="#000"/><line x1="578.00" y1="391.0" x2="578.00" y2="411.6" stroke="#6a6a6a" stroke-width="1"/><rect x="576.40" y="393.1" width="3.2" height="14.3" fill="#000"/><line x1="582.46" y1="396.9" x2="582.46" y2="413.7" stroke="#6a6a6a" stroke-width="1"/><rect x="581.11" y="406.1" width="2.7" height="1.0" fill="#fff" stroke="#1e1e1e" stroke-width="0.7"/><line x1="586.92" y1="394.0" x2="586.92" y2="410.7" stroke="#6a6a6a" stroke-width="1"/><rect x="585.57" y="395.2" width="2.7" height="9.8" fill="#fff" stroke="#1e1e1e" stroke-width="0.7"/><line x1="591.38" y1="391.4" x2="591.38" y2="400.2" stroke="#6a6a6a" stroke-width="1"/><rect x="589.78" y="394.8" width="3.2" height="4.6" fill="#000"/><line x1="595.84" y1="393.1" x2="595.84" y2="401.9" stroke="#6a6a6a" stroke-width="1"/><rect x="594.24" y="400.0" width="3.2" height="1.4" fill="#000"/><line x1="600.30" y1="396.4" x2="600.30" y2="408.6" stroke="#6a6a6a" stroke-width="1"/><rect x="598.70" y="401.0" width="3.2" height="6.8" fill="#000"/><line x1="604.76" y1="403.1" x2="604.76" y2="422.4" stroke="#6a6a6a" stroke-width="1"/><rect x="603.16" y="408.2" width="3.2" height="3.3" fill="#000"/><line x1="609.23" y1="406.5" x2="609.23" y2="421.2" stroke="#6a6a6a" stroke-width="1"/><rect x="607.62" y="411.6" width="3.2" height="1.6" fill="#000"/><line x1="613.69" y1="402.3" x2="613.69" y2="417.4" stroke="#6a6a6a" stroke-width="1"/><rect x="612.34" y="407.2" width="2.7" height="5.6" fill="#fff" stroke="#1e1e1e" stroke-width="0.7"/><line x1="618.15" y1="387.6" x2="618.15" y2="413.2" stroke="#6a6a6a" stroke-width="1"/><rect x="616.80" y="388.9" width="2.7" height="17.3" fill="#fff" stroke="#1e1e1e" stroke-width="0.7"/><line x1="622.61" y1="386.4" x2="622.61" y2="394.7" stroke="#6a6a6a" stroke-width="1"/><rect x="621.01" y="388.9" width="3.2" height="2.1" fill="#000"/><line x1="627.07" y1="385.1" x2="627.07" y2="393.5" stroke="#6a6a6a" stroke-width="1"/><rect x="625.47" y="390.6" width="3.2" height="1.6" fill="#000"/><line x1="631.53" y1="389.3" x2="631.53" y2="404.0" stroke="#6a6a6a" stroke-width="1"/><rect x="629.93" y="392.2" width="3.2" height="11.4" fill="#000"/><line x1="635.99" y1="403.6" x2="635.99" y2="415.7" stroke="#6a6a6a" stroke-width="1"/><rect x="634.39" y="404.0" width="3.2" height="8.8" fill="#000"/><line x1="640.45" y1="402.0" x2="640.45" y2="413.5" stroke="#6a6a6a" stroke-width="1"/><rect x="639.10" y="404.4" width="2.7" height="8.5" fill="#fff" stroke="#1e1e1e" stroke-width="0.7"/><line x1="644.91" y1="392.7" x2="644.91" y2="411.1" stroke="#6a6a6a" stroke-width="1"/><rect x="643.31" y="405.0" width="3.2" height="1.4" fill="#000"/><line x1="649.37" y1="404.0" x2="649.37" y2="411.1" stroke="#6a6a6a" stroke-width="1"/><rect x="647.77" y="406.1" width="3.2" height="3.8" fill="#000"/><line x1="653.84" y1="406.1" x2="653.84" y2="413.0" stroke="#6a6a6a" stroke-width="1"/><rect x="652.24" y="409.9" width="3.2" height="2.1" fill="#000"/><line x1="658.30" y1="406.3" x2="658.30" y2="412.5" stroke="#6a6a6a" stroke-width="1"/><rect x="656.95" y="409.7" width="2.7" height="2.0" fill="#fff" stroke="#1e1e1e" stroke-width="0.7"/><line x1="662.76" y1="386.1" x2="662.76" y2="411.0" stroke="#6a6a6a" stroke-width="1"/><rect x="661.41" y="391.9" width="2.7" height="17.7" fill="#fff" stroke="#1e1e1e" stroke-width="0.7"/><line x1="667.22" y1="365.3" x2="667.22" y2="397.4" stroke="#6a6a6a" stroke-width="1"/><rect x="665.87" y="374.6" width="2.7" height="16.6" fill="#fff" stroke="#1e1e1e" stroke-width="0.7"/><line x1="671.68" y1="354.6" x2="671.68" y2="376.6" stroke="#6a6a6a" stroke-width="1"/><rect x="670.33" y="362.2" width="2.7" height="11.7" fill="#fff" stroke="#1e1e1e" stroke-width="0.7"/><line x1="676.14" y1="345.7" x2="676.14" y2="372.5" stroke="#6a6a6a" stroke-width="1"/><rect x="674.79" y="355.6" width="2.7" height="5.9" fill="#fff" stroke="#1e1e1e" stroke-width="0.7"/><line x1="680.60" y1="352.2" x2="680.60" y2="370.1" stroke="#6a6a6a" stroke-width="1"/><rect x="679.00" y="355.2" width="3.2" height="8.3" fill="#000"/><line x1="685.06" y1="357.0" x2="685.06" y2="366.5" stroke="#6a6a6a" stroke-width="1"/><rect x="683.71" y="362.7" width="2.7" height="0.8" fill="#fff" stroke="#1e1e1e" stroke-width="0.7"/><line x1="689.52" y1="345.7" x2="689.52" y2="363.0" stroke="#6a6a6a" stroke-width="1"/><rect x="688.17" y="353.8" width="2.7" height="8.2" fill="#fff" stroke="#1e1e1e" stroke-width="0.7"/><line x1="693.98" y1="352.2" x2="693.98" y2="365.0" stroke="#6a6a6a" stroke-width="1"/><rect x="692.38" y="353.4" width="3.2" height="10.7" fill="#000"/><line x1="698.45" y1="352.0" x2="698.45" y2="368.5" stroke="#6a6a6a" stroke-width="1"/><rect x="697.10" y="352.9" width="2.7" height="10.7" fill="#fff" stroke="#1e1e1e" stroke-width="0.7"/><line x1="702.91" y1="326.2" x2="702.91" y2="353.5" stroke="#6a6a6a" stroke-width="1"/><rect x="701.56" y="341.1" width="2.7" height="11.6" fill="#fff" stroke="#1e1e1e" stroke-width="0.7"/><line x1="707.37" y1="338.5" x2="707.37" y2="351.2" stroke="#6a6a6a" stroke-width="1"/><rect x="706.02" y="339.9" width="2.7" height="0.8" fill="#fff" stroke="#1e1e1e" stroke-width="0.7"/><line x1="711.83" y1="331.5" x2="711.83" y2="342.1" stroke="#6a6a6a" stroke-width="1"/><rect x="710.48" y="332.5" width="2.7" height="7.0" fill="#fff" stroke="#1e1e1e" stroke-width="0.7"/><line x1="716.29" y1="328.0" x2="716.29" y2="339.8" stroke="#6a6a6a" stroke-width="1"/><rect x="714.69" y="332.1" width="3.2" height="6.8" fill="#000"/><line x1="720.75" y1="339.0" x2="720.75" y2="359.4" stroke="#6a6a6a" stroke-width="1"/><rect x="719.15" y="339.4" width="3.2" height="15.4" fill="#000"/><line x1="725.21" y1="348.5" x2="725.21" y2="360.3" stroke="#6a6a6a" stroke-width="1"/><rect x="723.61" y="354.0" width="3.2" height="1.6" fill="#000"/><line x1="729.67" y1="352.1" x2="729.67" y2="372.1" stroke="#6a6a6a" stroke-width="1"/><rect x="728.07" y="354.4" width="3.2" height="12.2" fill="#000"/><line x1="734.13" y1="365.0" x2="734.13" y2="374.8" stroke="#6a6a6a" stroke-width="1"/><rect x="732.53" y="366.6" width="3.2" height="1.4" fill="#000"/><line x1="738.59" y1="366.0" x2="738.59" y2="375.3" stroke="#6a6a6a" stroke-width="1"/><rect x="737.24" y="368.9" width="2.7" height="1.1" fill="#fff" stroke="#1e1e1e" stroke-width="0.7"/><line x1="743.06" y1="354.8" x2="743.06" y2="371.6" stroke="#6a6a6a" stroke-width="1"/><rect x="741.71" y="360.7" width="2.7" height="7.0" fill="#fff" stroke="#1e1e1e" stroke-width="0.7"/><line x1="747.52" y1="360.5" x2="747.52" y2="368.9" stroke="#6a6a6a" stroke-width="1"/><rect x="745.92" y="361.2" width="3.2" height="5.4" fill="#000"/><line x1="751.98" y1="342.1" x2="751.98" y2="369.8" stroke="#6a6a6a" stroke-width="1"/><rect x="750.63" y="343.9" width="2.7" height="22.4" fill="#fff" stroke="#1e1e1e" stroke-width="0.7"/><line x1="756.44" y1="331.8" x2="756.44" y2="345.5" stroke="#6a6a6a" stroke-width="1"/><rect x="755.09" y="336.0" width="2.7" height="7.5" fill="#fff" stroke="#1e1e1e" stroke-width="0.7"/></g>
<text x="116" y="597.6" font-size="31" fill="#111" stroke="#fff" stroke-width="0.3" textLength="26.8" lengthAdjust="spacingAndGlyphs">@</text>
<text x="143.2" y="599.8" font-size="35" fill="#111" stroke="#fff" stroke-width="0.55" textLength="146.8" lengthAdjust="spacingAndGlyphs">ali_charts</text>
<g stroke="#151515" stroke-width="1.65" fill="none" stroke-linecap="butt">
<line x1="113.5" y1="617" x2="247.9" y2="266.4"/>
<line x1="247.9" y1="266.4" x2="738.7" y2="379.3"/>
<line x1="247.3" y1="309.9" x2="738.7" y2="422.9"/>
<line x1="247.3" y1="353.3" x2="738.7" y2="466.5"/>
<line x1="738.7" y1="453.6" x2="872.6" y2="105.1"/>
</g>
<polyline points="703.1,374.2 720.9,326.4 738.7,374.9 774.5,281.8 792.7,321.8 827.8,185.1 854.2,247.2 873,135.4" fill="none" stroke="#151515" stroke-width="2.1" stroke-dasharray="0.3 4.45" stroke-linecap="round" stroke-linejoin="round"/>
<polyline points="865.7,139.9 873,135.4 878.6,143" fill="none" stroke="#151515" stroke-width="2.1" stroke-dasharray="0.3 4.45" stroke-linecap="round"/>
<g class="avatar" fill="none" stroke="#111" stroke-linecap="round" stroke-linejoin="round">
<path d="M63.7,552.1 C50,552.5 40,559 36.8,565.2 C33.5,572 32.6,580 32.6,586 C32,592 31.6,600 31.8,606 C32.2,612 35,619 38.5,622.8 C41,626 45.2,628.7 48,630 C52,631 56,631.3 60,631.1 C66,630.8 72,627 75.5,624.5 C79,621 81.5,618.5 83.4,615 C85,611 86,607 86.4,603 C87,598 87.5,593 88.4,589 C90,583 91,577 90.6,572 C89.5,566 86,561 82,558 C77,554 70,552 63.7,552.1 Z" fill="#fff" fill-opacity="0" stroke="none"/>
<path d="M63.7,552.1 C50,552.5 40,559 36.8,565.2 C33.5,572 32.6,580 32.6,586 C32,592 31.6,600 31.8,606 C32.2,612 35,619 38.5,622.8 C41,626 45.2,628.7 48,630 C52,631 56,631.3 60,631.1 C66,630.8 72,627 75.5,624.5 C79,621 81.5,618.5 83.4,615" stroke-width="2.4"/>
<path d="M63.7,552.1 C70,552 77,554 82,558 C86,561 89.5,566 90.6,572 C91,577 90,583 88.4,589 C87.3,594 86.8,599 86.4,603 C85.8,607 84.8,611 83,615.5" stroke-width="2.4"/>
<path d="M88.6,589.2 C91,589 93.5,589 94.8,589.6 C96.4,590.5 96.8,592 96.5,593.8 C96,596.5 95.5,598.5 94.7,600.4 C93.5,603 92.3,605 90.9,606.3 C89.4,607.7 87.8,608.7 86.2,609.2" stroke-width="2.2"/>
<path d="M92.9,592.6 C94,595.5 93.4,600 91.9,603.9 L87.9,604.3 C88.8,600.3 90.6,596 92.9,592.6 Z" stroke-width="1.3"/>
<path d="M36.4,580.3 C39,578.4 42,577.8 45,577.9 C47,578 48.6,578.3 49.6,578.7" stroke-width="4.2"/>
<path d="M59.4,579 C64,578 70,577.8 75.7,578.9 C77.6,579.6 78.6,581.5 78.9,584.8" stroke-width="4.2"/>
<path d="M37.6,585.7 C40,584.5 43,584.1 45.5,584.3 C46.8,584.4 47.8,584.6 48.3,584.9" stroke-width="2.6"/>
<path d="M40.2,588.5 C42,589.5 44.5,589.6 46.1,588.6" stroke-width="1.5" stroke="#666"/>
<path d="M51.5,584.5 C51.3,586 51,587.5 50.5,588.8" stroke-width="1.5"/>
<path d="M62.3,585.3 C65,584.5 67.6,584.3 70,584.6 C72.5,585 74,585.5 75.2,586.1" stroke-width="2.6"/>
<path d="M65,588.5 C67,589.2 69.2,589.3 70.9,588.8" stroke-width="1.4" stroke="#666"/>
<path d="M45.6,593.1 C44.5,594.3 44.3,596.2 46.1,597.2 C48,598 50,598 51.5,598 C54,597.9 56.5,597.2 58.5,596.9 C61,596.6 63,596.5 63.4,595.3 C63.6,594.4 63.5,593.4 63.3,592.6" stroke-width="1.8"/>
<path d="M41.2,596.8 C38,598.5 36.3,601 36.4,603.2 C36.6,604.5 37.2,605.3 37.8,605.8" stroke-width="1.4"/>
<path d="M65.5,594.2 C68.5,596 71,598 72.8,600.8 C74.2,603 74.8,605.5 74.2,608.4" stroke-width="1.4"/>
<path d="M40.2,604.9 C46,602.7 51,602.2 55.4,602.4 C61,602.7 66,603.9 70.6,605.9" stroke-width="2.3"/><path d="M40.8,605.3 C46,607.1 51,607.8 55.4,607.8 C61,607.7 66,607.1 70.4,606.1" stroke-width="1.7"/><path d="M44.5,610.4 C48,611 50.5,611.2 52,611.1 C56,610.9 60,610.5 64.2,609.7" stroke-width="1.1" stroke="#333"/><path d="M45.2,613.8 C49,615.3 52,615.6 54,615.5 C57,615.4 59.5,614.8 61.3,613.8" stroke-width="1.9"/><circle cx="52" cy="611" r="1" fill="#111" stroke="none"/>
<path d="M9.1,644.2 C16,641 25,638.5 32.2,636.7" stroke-width="2.2"/>
<path d="M32.2,636.7 C28,641 24.5,646.5 22,651.2" stroke-width="1.8"/>
<path d="M33.3,638.9 C31.5,645 28.5,653 24,658.5 C21.5,661 18.5,662 16.1,662" stroke-width="2.2"/>
<path d="M36.5,622.7 C35,628 34.3,634 34.4,640 C34.5,650 36.5,658 39.7,665.2" stroke-width="2.2"/>
<path d="M29,658.2 C29.1,661 29.3,663 29.5,665.2" stroke-width="1.8"/>
<path d="M85.9,612.5 C85,618 84.2,624 83.9,629.2 C84.5,630 86.5,631.2 87.4,632.4 C88,634.5 87.9,636.5 87.8,637.8 C89,640 90,641 91.7,641.8 C96,643.5 100,644.5 103.5,646.5 C110,650 115,652.5 117.6,655.1 C121,658 124,662 126.2,665.2" stroke-width="2.2"/>
<path d="M83.9,630 C78,638 72,647 68.7,655 C66.5,659 64,663 62.3,665.2" stroke-width="2.2"/>
<path d="M87.4,639.4 C86.8,645 86,650 85.1,654.7" stroke-width="1.6"/>
<path d="M91.7,642.5 C92.4,646 92.6,649 92.5,651.2 C92.2,656 91.5,660 90.6,664.5" stroke-width="2.2"/>
<path d="M70.9,665.2 C72.5,662 75,658.5 76.8,656.6 C78.5,658.5 80,661 81.6,662.5 C83.5,664 86.5,664.4 89.2,664.6" stroke-width="2.2"/>
</g>

<g stroke="#111" stroke-width="1.9" stroke-linejoin="miter"><line x1="179.6" y1="615" x2="149.3" y2="645.6" fill="none"/><path d="M150.6,614.7 L158.3,614.7 L181,645.2 L173.3,645.2 Z" fill="#fff"/></g>
<path d="M216.5,615.6 C224,615.2 233,615.2 241,615.6 C246.5,615.9 248.8,618.5 249,623 C249.3,627.5 249.3,632 249,636.5 C248.8,641.5 246.5,643.9 241,644.2 C233,644.6 224,644.6 216.5,644.2 C211,643.9 208.7,641.5 208.5,636.5 C208.2,632 208.2,627.5 208.5,623 C208.7,618.5 211,615.9 216.5,615.6 Z" fill="none" stroke="#111" stroke-width="2.2"/>
<path d="M224.4,623.6 L235.4,629.8 L224.4,636 Z" fill="none" stroke="#111" stroke-width="2.1" stroke-linejoin="round"/>
<g fill="#131313"><path d="M9.3,685.1 H18.7 V696.7 H14.1 V689.7 H9.3 Z"/><circle cx="22.6" cy="687.5" r="2.2"/><path d="M27,685.1 H32.5 L28.6,696.7 H23.1 Z"/></g>
<text x="38.8" y="697" font-size="16.2" font-weight="700" fill="#131313">TradingView</text>
</svg></body></html>
